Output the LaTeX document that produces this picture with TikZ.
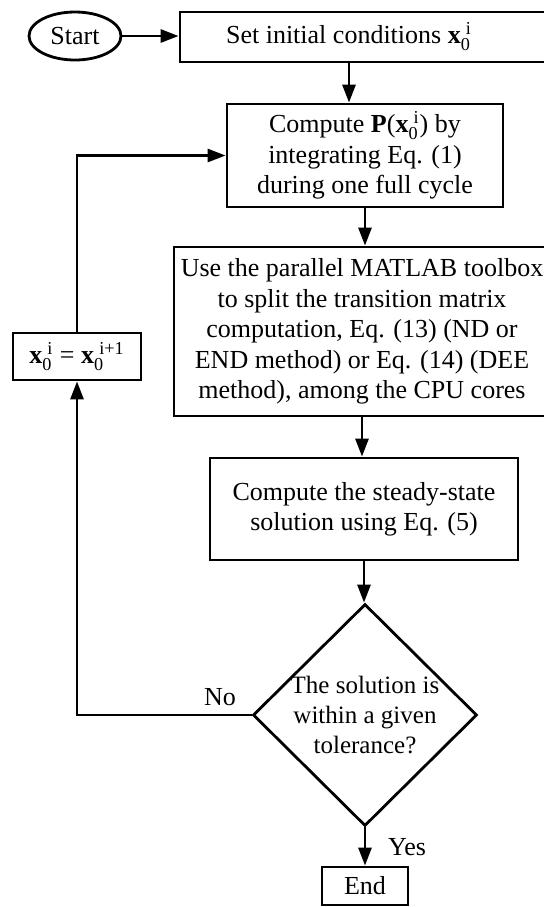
\documentclass[tikz,border=0pt]{standalone}
\usepackage{amsmath}
\usepackage[no-math]{fontspec}
\setmainfont{Liberation Serif}
\usepackage{tikz}
\usetikzlibrary{shapes, positioning, calc, arrows.meta}

\newcommand{\xvec}[1]{\textbf{x}$_{\text{0}}^{\;\text{#1}}$}

\tikzset{
	box/.style={draw, line width=1.4pt, rectangle, inner sep=0pt, align=center},
	arr/.style={line width=1.4pt, -{Triangle[length=9pt,width=6.5pt]}},
}

\begin{document}
\begin{tikzpicture}[x=0.5pt, y=-0.5pt, every node/.style={font=\fontsize{13}{15.2}\selectfont}]
			\useasboundingbox (0,0) rectangle (544,907);
			
			\node [draw, line width=1.4pt, ellipse, minimum width=46pt, minimum height=24pt, inner sep=0pt] (start) at (75,36) {Start};
			\node [box, minimum width=183pt, minimum height=25pt] (box1) at (363,37) {Set initial conditions \xvec{i}\hspace{14pt}};
			\node [box, minimum width=138pt, minimum height=51.5pt] (box2) at (365,155.5) {Compute \textbf{P}(\xvec{i}) by\\integrating Eq. (1)\\during one full cycle};
			\node [box, minimum width=188pt, minimum height=84.5pt] (box3) at (362,331.5) {Use the parallel MATLAB toolbox\\to split the transition matrix\\computation, Eq. (13) (ND or\\END method) or Eq. (14) (DEE\\method), among the CPU cores};
			\node [box, minimum width=154pt, minimum height=51pt] (box4) at (364,509) {Compute the steady-state\\solution using Eq. (5)};
			\node [draw, line width=1.4pt, diamond, aspect=1, inner sep=-6pt, align=center, minimum width=112pt, minimum height=111pt, font=\fontsize{12.5}{15}\selectfont] (dec) at (365,715) {The solution is\\within a given\\tolerance?};
			\node [box, minimum width=43pt, minimum height=19pt] (end) at (365,886) {End};
			\node [box, minimum width=64pt, minimum height=23.5pt] (upd) at (77,356.5) {\xvec{i} = \xvec{i+1}};
			
			\node (no) at (220,697) {No};
			\node (yes) at (407,847) {Yes};
			
			\draw [arr] (start.east) -- (start.east -| box1.west);
			\draw [arr] ([xshift=-7pt]box1.south) -- ([xshift=-7pt]box1.south |- box2.north);
			\foreach \from/\to in {box2/box3, box3/box4, box4/dec, dec/end}
			\draw [arr] (\from.south) -- (\from.south |- \to.north);
			
			\draw [arr] (dec.west) -| (upd.south);
			\draw [arr] (upd.north) |- (box2.west);
\end{tikzpicture}
\end{document}
